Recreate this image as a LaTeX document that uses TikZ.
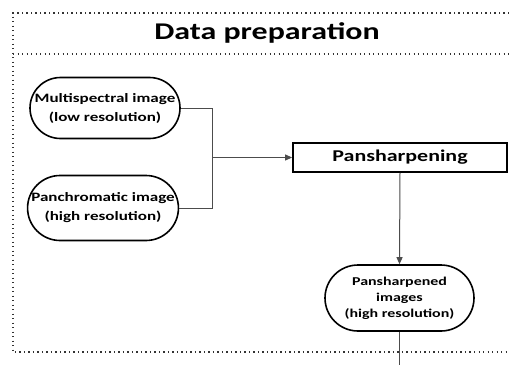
\documentclass[tikz,border=0pt]{standalone}
\usepackage{fontspec}
\setmainfont{Carlito}
\newfontfamily\wide[FakeStretch=1.33]{Carlito}
\usetikzlibrary{arrows.meta,shapes.misc}
\begin{document}
\begin{tikzpicture}[x=1pt,y=-1pt,
  frameline/.style={line width=1.3pt, dash pattern=on 1.3pt off 3.2pt, black!80},
  pill/.style={draw, line width=1.6pt, rounded rectangle, rounded rectangle arc length=180, inner sep=0pt, align=center, font=\wide\bfseries\fontsize{12.8}{19}\selectfont},
  procbox/.style={draw, line width=1.8pt, inner sep=0pt, font=\wide\bfseries\fontsize{16.5}{18}\selectfont},
  conn/.style={line width=1pt, black!70},
  arr/.style={conn, -{Triangle[length=7pt,width=6pt]}}]
\useasboundingbox (0,0) rectangle (509,365);
\fill[white] (0,0) rectangle (509,365);
% frame
\draw[frameline] (509,13) -- (13,13) -- (13,352) -- (509,352);
\draw[frameline] (13,54) -- (509,54);
\node[font=\wide\bfseries\fontsize{24}{28}\selectfont] (title) at (267,33) {Data preparation};
% nodes
\node[pill, minimum width=150pt, minimum height=61pt] (ms) at (105,108) {Multispectral image\\(low resolution)};
\node[pill, minimum width=146pt, minimum height=65pt] (pan) at (103,208) {Panchromatic image\\(high resolution)};
\node[procbox, minimum width=214pt, minimum height=29pt] (ps) at (400,157.5) {Pansharpening};
\node[pill, font=\wide\bfseries\fontsize{12}{16}\selectfont, minimum width=149pt, minimum height=66pt] (out) at (399.5,298) {Pansharpened\\images\\(high resolution)};
\coordinate (j) at (212,157.5);
\coordinate (bot) at (399.5,365);
% connectors
\draw[conn] (ms.east) -| (j);
\draw[conn] (pan.east) -| (j);
\draw[arr] (j) -- (ps.west);
\draw[arr] (ps.south) -- (out.north);
\draw[conn] (out.south) -- (bot);
\end{tikzpicture}
\end{document}
